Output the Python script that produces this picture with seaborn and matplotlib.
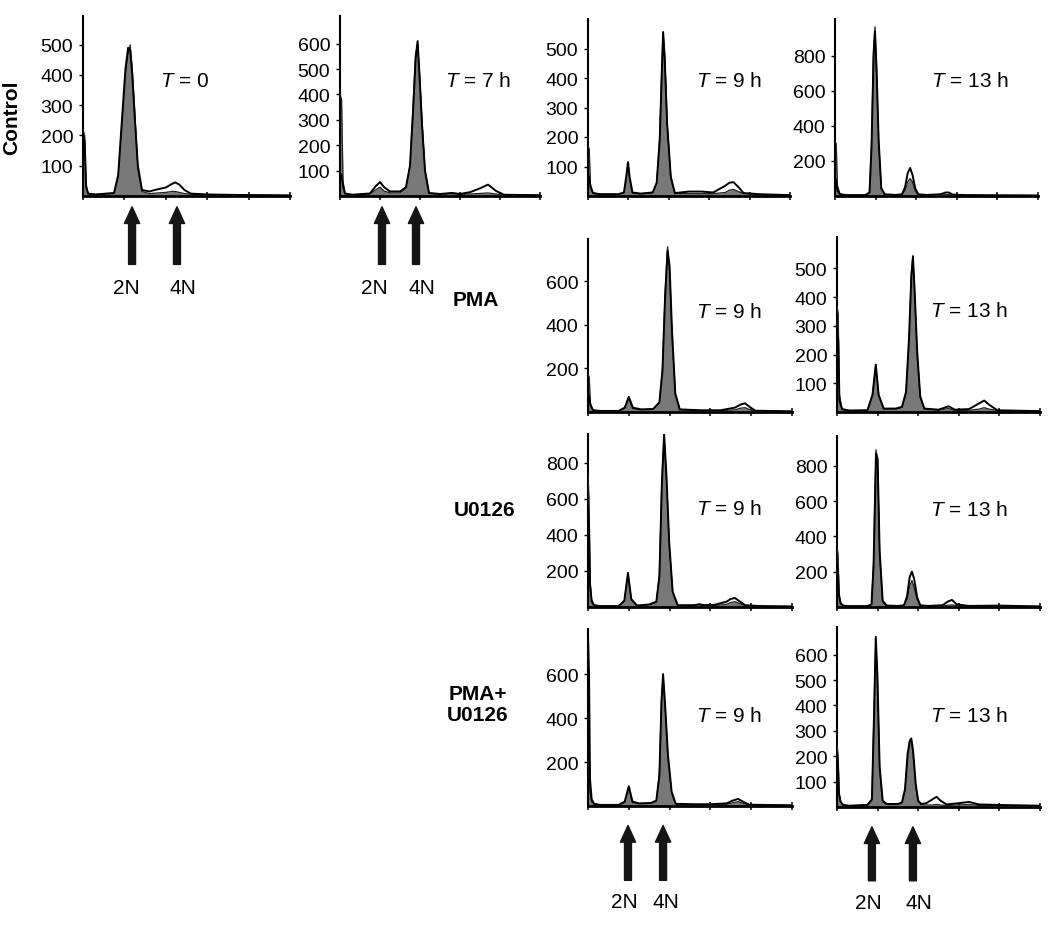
import matplotlib
matplotlib.use('Agg')
import matplotlib.pyplot as plt
import seaborn as sns

# ---- histogram data (DNA channel 0-1000, cell counts) ----
# Control, T = 0
ctl0_x = [0, 8, 15, 25, 60, 150, 170, 190, 205, 218, 228, 238, 250, 265, 285, 320, 360, 400, 430, 445, 465, 490, 520, 600, 700, 800, 1000]
ctl0_fill = [220, 200, 40, 8, 5, 8, 60, 250, 400, 470, 500, 420, 280, 90, 15, 8, 10, 12, 15, 15, 12, 8, 6, 5, 4, 3, 2]
ctl0_line = [200, 180, 30, 8, 5, 10, 70, 270, 420, 490, 480, 400, 260, 100, 20, 15, 22, 28, 40, 45, 38, 20, 8, 5, 4, 3, 2]

# Control, T = 7 h
ctl7_x = [0, 8, 15, 25, 60, 150, 180, 200, 220, 250, 300, 330, 350, 365, 378, 388, 398, 410, 425, 445, 500, 560, 600, 650, 700, 740, 780, 820, 1000]
ctl7_fill = [400, 380, 60, 10, 5, 8, 25, 35, 20, 12, 12, 30, 120, 350, 560, 600, 480, 300, 100, 10, 6, 10, 6, 8, 10, 12, 8, 4, 3]
ctl7_line = [90, 80, 40, 10, 5, 10, 40, 55, 35, 18, 18, 35, 120, 330, 540, 610, 470, 280, 100, 12, 8, 12, 8, 15, 30, 45, 20, 5, 3]

# Control, T = 9 h
ctl9_x = [0, 6, 12, 25, 60, 150, 178, 190, 198, 206, 220, 260, 320, 340, 355, 365, 372, 380, 392, 410, 430, 500, 560, 620, 680, 700, 720, 745, 770, 850, 1000]
ctl9_fill = [170, 160, 40, 10, 6, 6, 10, 60, 110, 60, 10, 8, 10, 40, 200, 430, 550, 480, 250, 60, 8, 8, 8, 8, 12, 20, 22, 15, 8, 5, 3]
ctl9_line = [70, 65, 30, 10, 6, 6, 12, 70, 115, 65, 12, 8, 12, 45, 190, 410, 556, 460, 240, 65, 10, 15, 15, 12, 35, 45, 47, 30, 10, 6, 3]

# Control, T = 13 h
ctl13_x = [0, 6, 12, 25, 60, 150, 170, 180, 190, 197, 205, 215, 228, 245, 300, 330, 345, 358, 370, 382, 395, 410, 450, 520, 545, 560, 580, 650, 1000]
ctl13_fill = [310, 300, 60, 10, 5, 5, 20, 300, 850, 966, 700, 300, 40, 8, 5, 8, 30, 80, 100, 80, 30, 8, 5, 5, 8, 8, 5, 4, 3]
ctl13_line = [100, 90, 30, 10, 5, 5, 20, 280, 800, 940, 720, 320, 45, 10, 6, 10, 50, 130, 160, 120, 45, 10, 6, 10, 20, 20, 8, 5, 3]

# PMA, T = 9 h
pma9_x = [0, 6, 12, 25, 60, 150, 180, 200, 220, 260, 320, 350, 365, 378, 390, 400, 412, 428, 450, 550, 650, 720, 750, 770, 790, 820, 1000]
pma9_fill = [175, 160, 40, 8, 5, 5, 15, 60, 15, 10, 12, 40, 200, 550, 760, 650, 350, 80, 10, 6, 6, 10, 18, 20, 12, 5, 3]
pma9_line = [80, 70, 30, 8, 5, 5, 20, 70, 20, 12, 14, 45, 190, 530, 740, 670, 370, 85, 12, 8, 8, 20, 35, 40, 25, 6, 3]

# PMA, T = 13 h
pma13_x = [0, 6, 12, 25, 60, 150, 175, 191, 205, 230, 290, 320, 340, 355, 366, 374, 382, 395, 410, 430, 500, 530, 550, 580, 650, 700, 725, 750, 790, 1000]
pma13_fill = [370, 340, 60, 10, 5, 6, 60, 160, 60, 10, 10, 15, 60, 250, 480, 545, 420, 200, 50, 10, 6, 10, 12, 6, 6, 10, 15, 10, 5, 3]
pma13_line = [270, 250, 40, 10, 5, 6, 60, 165, 60, 12, 12, 18, 70, 260, 470, 540, 430, 210, 55, 12, 8, 15, 20, 8, 10, 30, 40, 25, 6, 3]

# U0126, T = 9 h
u9_x = [0, 5, 10, 18, 30, 60, 150, 178, 196, 212, 240, 300, 335, 350, 362, 373, 385, 398, 415, 440, 520, 545, 570, 620, 680, 700, 720, 745, 770, 850, 1000]
u9_fill = [735, 600, 150, 40, 10, 5, 5, 30, 185, 40, 8, 12, 25, 180, 700, 955, 700, 350, 80, 8, 8, 15, 8, 8, 15, 25, 30, 18, 8, 4, 3]
u9_line = [550, 450, 120, 30, 10, 5, 5, 35, 190, 45, 8, 14, 30, 170, 680, 960, 720, 360, 85, 10, 10, 15, 10, 12, 30, 45, 50, 30, 10, 5, 3]

# U0126, T = 13 h
u13_x = [0, 5, 10, 18, 30, 60, 150, 170, 180, 192, 200, 210, 225, 245, 300, 330, 345, 358, 369, 380, 395, 410, 450, 520, 545, 566, 590, 650, 800, 1000]
u13_fill = [340, 300, 80, 25, 8, 5, 5, 15, 250, 890, 830, 300, 30, 6, 5, 8, 40, 120, 150, 110, 40, 8, 5, 5, 10, 12, 8, 5, 6, 3]
u13_line = [240, 200, 60, 20, 8, 5, 5, 15, 230, 870, 840, 320, 35, 8, 6, 10, 60, 170, 200, 160, 55, 10, 6, 10, 30, 40, 15, 6, 8, 3]

# PMA+U0126, T = 9 h
pu9_x = [0, 5, 10, 18, 30, 60, 150, 180, 200, 218, 250, 310, 335, 350, 360, 368, 378, 392, 410, 430, 520, 600, 680, 710, 735, 760, 790, 1000]
pu9_fill = [210, 180, 60, 20, 8, 5, 5, 15, 80, 15, 10, 12, 20, 150, 480, 590, 450, 220, 60, 8, 6, 6, 8, 15, 20, 12, 5, 3]
pu9_line = [780, 600, 120, 30, 10, 5, 5, 20, 90, 20, 12, 14, 25, 140, 470, 600, 460, 230, 65, 10, 8, 8, 12, 25, 32, 20, 6, 3]

# PMA+U0126, T = 13 h
pu13_x = [0, 5, 10, 18, 30, 60, 150, 172, 183, 191, 199, 210, 225, 245, 300, 320, 335, 348, 358, 366, 375, 388, 400, 415, 440, 470, 490, 510, 540, 600, 650, 700, 800, 1000]
pu13_fill = [250, 200, 60, 20, 8, 5, 8, 30, 400, 660, 500, 150, 20, 10, 10, 15, 60, 200, 250, 265, 210, 80, 20, 10, 8, 8, 10, 8, 6, 8, 10, 6, 5, 3]
pu13_line = [215, 170, 50, 20, 8, 5, 8, 30, 380, 670, 520, 160, 25, 12, 12, 18, 70, 210, 260, 270, 220, 90, 25, 12, 15, 30, 40, 25, 10, 15, 20, 10, 8, 5]

time_labels = ['0', '7 h', '9 h', '13 h', '9 h', '13 h', '9 h', '13 h', '9 h', '13 h']
y_max = [595, 709, 600, 1010, 795, 609, 961, 968, 805, 709]
y_ticks = [
    [100, 200, 300, 400, 500],
    [100, 200, 300, 400, 500, 600],
    [100, 200, 300, 400, 500],
    [200, 400, 600, 800],
    [200, 400, 600],
    [100, 200, 300, 400, 500],
    [200, 400, 600, 800],
    [200, 400, 600, 800],
    [200, 400, 600],
    [100, 200, 300, 400, 500, 600],
]
row_labels = ['Control', 'PMA', 'U0126', 'PMA+\nU0126']

# arrows marking 2N / 4N peaks: panel index, arrow channels, label channels
arrow_panels = [0, 1, 8, 9]
arrow_ch = [[237, 454], [210, 380], [196, 368], [172, 374]]
arrow_lab_ch = [[208, 483], [170, 410], [176, 382], [153, 404]]
ploidy = ['2N', '4N']

panels = [
    (ctl0_x, ctl0_fill, ctl0_line), (ctl7_x, ctl7_fill, ctl7_line),
    (ctl9_x, ctl9_fill, ctl9_line), (ctl13_x, ctl13_fill, ctl13_line),
    (pma9_x, pma9_fill, pma9_line), (pma13_x, pma13_fill, pma13_line),
    (u9_x, u9_fill, u9_line), (u13_x, u13_fill, u13_line),
    (pu9_x, pu9_fill, pu9_line), (pu13_x, pu13_fill, pu13_line),
]

sns.set_theme(style='ticks')
plt.rcParams['font.family'] = ['Liberation Sans', 'DejaVu Sans']
plt.rcParams['mathtext.fontset'] = 'custom'
plt.rcParams['mathtext.rm'] = 'Liberation Sans'
plt.rcParams['mathtext.it'] = 'Liberation Sans:italic'

W, H = 1050, 929
fig = plt.figure(figsize=(W / 100, H / 100), dpi=100)
fig.patch.set_facecolor('white')

# panel boxes in pixels: left, right, top, bottom
boxes = [(83, 290, 17, 197), (340, 540, 17, 197), (588, 790, 20, 197), (835, 1038, 20, 197),
         (588, 792, 240, 413), (837, 1040, 238, 413),
         (588, 792, 435, 608), (837, 1040, 437, 608),
         (588, 792, 630, 807), (837, 1040, 628, 808)]
title_pos = [(0.37, 0.64), (0.525, 0.64), (0.535, 0.65), (0.475, 0.65),
             (0.53, 0.58), (0.46, 0.58), (0.53, 0.57), (0.46, 0.57),
             (0.53, 0.51), (0.46, 0.51)]

axes = []
for i, (x, yf, yl) in enumerate(panels):
    l, r, t, b = boxes[i]
    ax = fig.add_axes([l / W, 1 - b / H, (r - l) / W, (b - t) / H])
    ax.set_facecolor('white')
    ax.fill_between(x, yf, color='#787878', lw=0, zorder=2)
    sns.lineplot(x=x, y=yf, ax=ax, color='#222222', lw=0.9, zorder=3)
    sns.lineplot(x=x, y=yl, ax=ax, color='black', lw=1.4, zorder=4)
    ax.set_xlim(0, 1000)
    ax.set_ylim(0, y_max[i])
    ax.set_xticks(range(0, 1001, 200))
    ax.set_xticklabels([])
    ax.set_yticks(y_ticks[i])
    ax.set_yticklabels([str(v) for v in y_ticks[i]])
    ax.set_xlabel('')
    ax.set_ylabel('')
    ax.tick_params(axis='x', direction='inout', length=6, width=1.1, color='black')
    ax.tick_params(axis='y', direction='out', length=3, width=1, color='black',
                   labelsize=14, labelcolor='black', pad=4)
    sns.despine(ax=ax)
    ax.spines['left'].set_linewidth(1.5)
    ax.spines['left'].set_color('black')
    ax.spines['bottom'].set_linewidth(2)
    ax.spines['bottom'].set_color('black')
    ax.grid(False)
    tx, ty = title_pos[i]
    ax.text(tx, ty, '$T$ = ' + time_labels[i], transform=ax.transAxes,
            ha='left', va='center', fontsize=15, color='black')
    axes.append(ax)

# 2N / 4N arrows below the marked panels
arrow_y = {0: (-0.06, -0.38, -0.51), 1: (-0.06, -0.38, -0.51),
           8: (-0.11, -0.42, -0.54), 9: (-0.11, -0.41, -0.53)}
for k, pi in enumerate(arrow_panels):
    ax = axes[pi]
    tip, tail, lab = arrow_y[pi]
    for j in range(2):
        ax.annotate('', xy=(arrow_ch[k][j], tip), xycoords=('data', 'axes fraction'),
                    xytext=(arrow_ch[k][j], tail), textcoords=('data', 'axes fraction'),
                    arrowprops=dict(arrowstyle='simple,head_length=1.2,head_width=1.1,tail_width=0.5',
                                    color='#151515', mutation_scale=10, shrinkA=0, shrinkB=0),
                    annotation_clip=False)
        ax.text(arrow_lab_ch[k][j], lab, ploidy[j], transform=ax.get_xaxis_transform(),
                ha='center', va='center', fontsize=15, color='black')

# row labels
fig.text(12 / W, 1 - 118 / H, row_labels[0], rotation=90, ha='center', va='center',
         fontsize=15, fontweight='bold', color='black')
fig.text(476 / W, 1 - 300 / H, row_labels[1], ha='center', va='center',
         fontsize=15, fontweight='bold', color='black')
fig.text(485 / W, 1 - 510 / H, row_labels[2], ha='center', va='center',
         fontsize=15, fontweight='bold', color='black')
fig.text(478 / W, 1 - 705 / H, row_labels[3], ha='center', va='center', multialignment='center',
         fontsize=15, fontweight='bold', color='black', linespacing=1.1)

fig.savefig('out.png', dpi=100, facecolor='white')
